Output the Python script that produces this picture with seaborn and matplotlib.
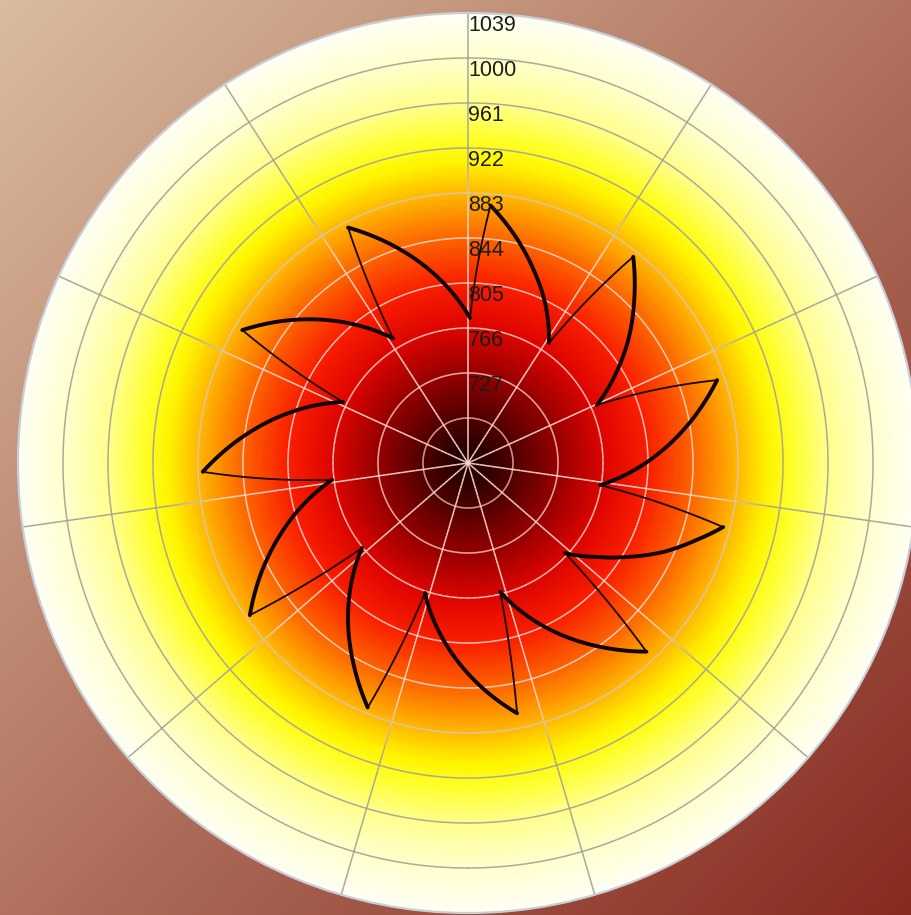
import numpy as np
import pandas as pd
import matplotlib
matplotlib.use("Agg")
import matplotlib.pyplot as plt
import seaborn as sns
from matplotlib.collections import LineCollection
from matplotlib.colors import LinearSegmentedColormap

# ---- radial scale ----
r_min = 649
r_ticks = [688, 727, 766, 805, 844, 883, 922, 961, 1000, 1039]
r_tick_labels = ["", "727", "766", "805", "844", "883", "922", "961", "1000", "1039"]
n_spokes = 11

# ---- curve: angle (degrees, clockwise from north) and radial value ----
theta_deg = [0.8, 5.0, 12.0, 19.0, 26.0,
             34.0, 38.7, 45.5, 52.0, 58.5,
             65.8, 71.6, 78.0, 85.0, 92.0,
             99.5, 104.1, 108.6, 114.5, 120.1, 126.0,
             132.9, 136.6, 143.0, 150.0, 157.0,
             166.0, 168.9, 175.0, 182.0, 189.0,
             198.3, 202.3, 209.0, 216.0, 223.0,
             231.3, 235.1, 242.0, 249.0, 256.0,
             262.9, 268.1, 275.0, 282.0, 289.0,
             296.0, 300.5, 307.0, 314.0, 321.0,
             329.0, 333.0, 340.0, 347.0, 354.0,
             360.8]
radius = [774.7, 873.0, 849.0, 825.0, 802.0,
          774.5, 878.0, 851.0, 826.0, 800.0,
          771.5, 876.5, 851.0, 823.0, 795.0,
          765.0, 877.0, 858.0, 835.0, 811.0, 787.5,
          763.7, 874.0, 850.0, 824.0, 798.0,
          764.0, 870.0, 849.0, 824.5, 800.0,
          767.7, 878.0, 852.0, 825.5, 798.7,
          766.8, 879.5, 852.0, 823.6, 795.5,
          767.7, 879.0, 852.0, 824.5, 797.0,
          769.5, 876.0, 853.0, 828.0, 803.0,
          775.0, 878.0, 852.0, 826.0, 800.0,
          774.7]

# ---- colours ----
heat_stops = [(0.00, (25, 0, 0)), (0.10, (80, 0, 0)), (0.20, (150, 0, 0)),
              (0.30, (220, 5, 0)), (0.40, (250, 30, 0)), (0.50, (252, 100, 0)),
              (0.60, (255, 185, 0)), (0.67, (255, 245, 0)), (0.72, (255, 255, 40)),
              (0.80, (255, 255, 140)), (0.90, (255, 255, 205)), (1.00, (255, 255, 245))]
heat = LinearSegmentedColormap.from_list(
    "heat", [(p, tuple(c / 255 for c in rgb)) for p, rgb in heat_stops])

sns.set_theme(style="white")
plt.rcParams["font.family"] = ["Liberation Sans", "DejaVu Sans"]

W, H = 912, 915
fig = plt.figure(figsize=(W / 100, H / 100), dpi=100)

# page background: diagonal tan -> brick gradient
bg = fig.add_axes([0, 0, 1, 1], zorder=0)
yy, xx = np.mgrid[0:1:300j, 0:1:300j]
s = (xx + yy) / 2
c0 = np.array([218, 188, 158]) / 255
c1 = np.array([135, 42, 32]) / 255
grad = c0[None, None, :] * (1 - s[..., None]) + c1[None, None, :] * s[..., None]
bg.imshow(grad, aspect="auto", extent=[0, 1, 0, 1], origin="upper")
bg.set_axis_off()

R_PX = 450
cx, cy = 468, 915 - 463
ax = fig.add_axes([(cx - R_PX) / W, (cy - R_PX) / H, 2 * R_PX / W, 2 * R_PX / H],
                  projection="polar", zorder=1)
ax.set_theta_zero_location("N")
ax.set_theta_direction(-1)
ax.set_facecolor("none")
r_max = r_ticks[-1]

# radial heat fill
tg = np.linspace(0, 2 * np.pi, 361)
rg = np.linspace(r_min, r_max, 300)
T, Rr = np.meshgrid(tg, rg)
ax.pcolormesh(T, Rr, (Rr - r_min) / (r_max - r_min), cmap=heat, vmin=0, vmax=1,
              shading="gouraud", zorder=0, rasterized=True)


# grid: light on the dark core, grey on the pale rim
def grid_colour(r):
    f = (r - r_min) / (r_max - r_min)
    t = np.clip((f - 0.55) / 0.13, 0, 1)[:, None]
    light = np.array([1.0, 0.84, 0.80, 0.95])
    dark = np.array([0.64, 0.64, 0.58, 0.95])
    return light * (1 - t) + dark * t


segs, mids = [], []
ring_t = np.linspace(0, 2 * np.pi, 721)
for rv in r_ticks[:-1]:
    for a, b in zip(ring_t[:-1], ring_t[1:]):
        segs.append([(a, rv), (b, rv)])
        mids.append(rv)
spoke_r = np.linspace(r_min, r_max, 120)
for k in range(n_spokes):
    a = np.deg2rad(k * 360 / n_spokes)
    for r0, r1 in zip(spoke_r[:-1], spoke_r[1:]):
        segs.append([(a, r0), (a, r1)])
        mids.append((r0 + r1) / 2)
lc = LineCollection(segs, colors=grid_colour(np.array(mids)), linewidths=1.1,
                    transform=ax.transData, zorder=1)
ax.add_collection(lc)

# curve, split into rising (sparse, thin) and falling (dense, heavy) runs
th = np.deg2rad(theta_deg)
rr = np.array(radius)
rows = []
unit = 0
rising = np.diff(rr) > 0
for i in range(len(rr) - 1):
    if i > 0 and rising[i] != rising[i - 1]:
        unit += 1
    kind = "rise" if rising[i] else "fall"
    rows.append((unit, kind, th[i], rr[i]))
    rows.append((unit, kind, th[i + 1], rr[i + 1]))
df = pd.DataFrame(rows, columns=["unit", "kind", "theta", "r"])

n0 = len(ax.lines)
sns.lineplot(data=df[df.kind == "rise"], x="theta", y="r", units="unit",
             estimator=None, sort=False, color="#1a0500", linewidth=1.3,
             ax=ax, legend=False, zorder=3)
sns.lineplot(data=df[df.kind == "fall"], x="theta", y="r", units="unit",
             estimator=None, sort=False, color="#120000", linewidth=2.8,
             ax=ax, legend=False, zorder=3)
for ln in ax.lines[n0:]:
    # follow the polar scale between samples instead of straight chords
    ln.get_path()._interpolation_steps = 24
    ln.set_solid_joinstyle("round")

ax.set_xlabel("")
ax.set_ylabel("")
ax.set_rlim(r_min, r_max)
ax.set_xticks([])
ax.set_yticks([])
ax.grid(False)
ax.spines["polar"].set_color("#c9ced6")
ax.spines["polar"].set_linewidth(1.6)

# radial value labels up the north spoke
for v, lab in zip(r_ticks, r_tick_labels):
    if lab:
        ax.text(0.0, v - 10.5, lab, ha="left", va="center", fontsize=15.5,
                color="#1c1c1c", zorder=5)

fig.savefig("out.png", dpi=100)
